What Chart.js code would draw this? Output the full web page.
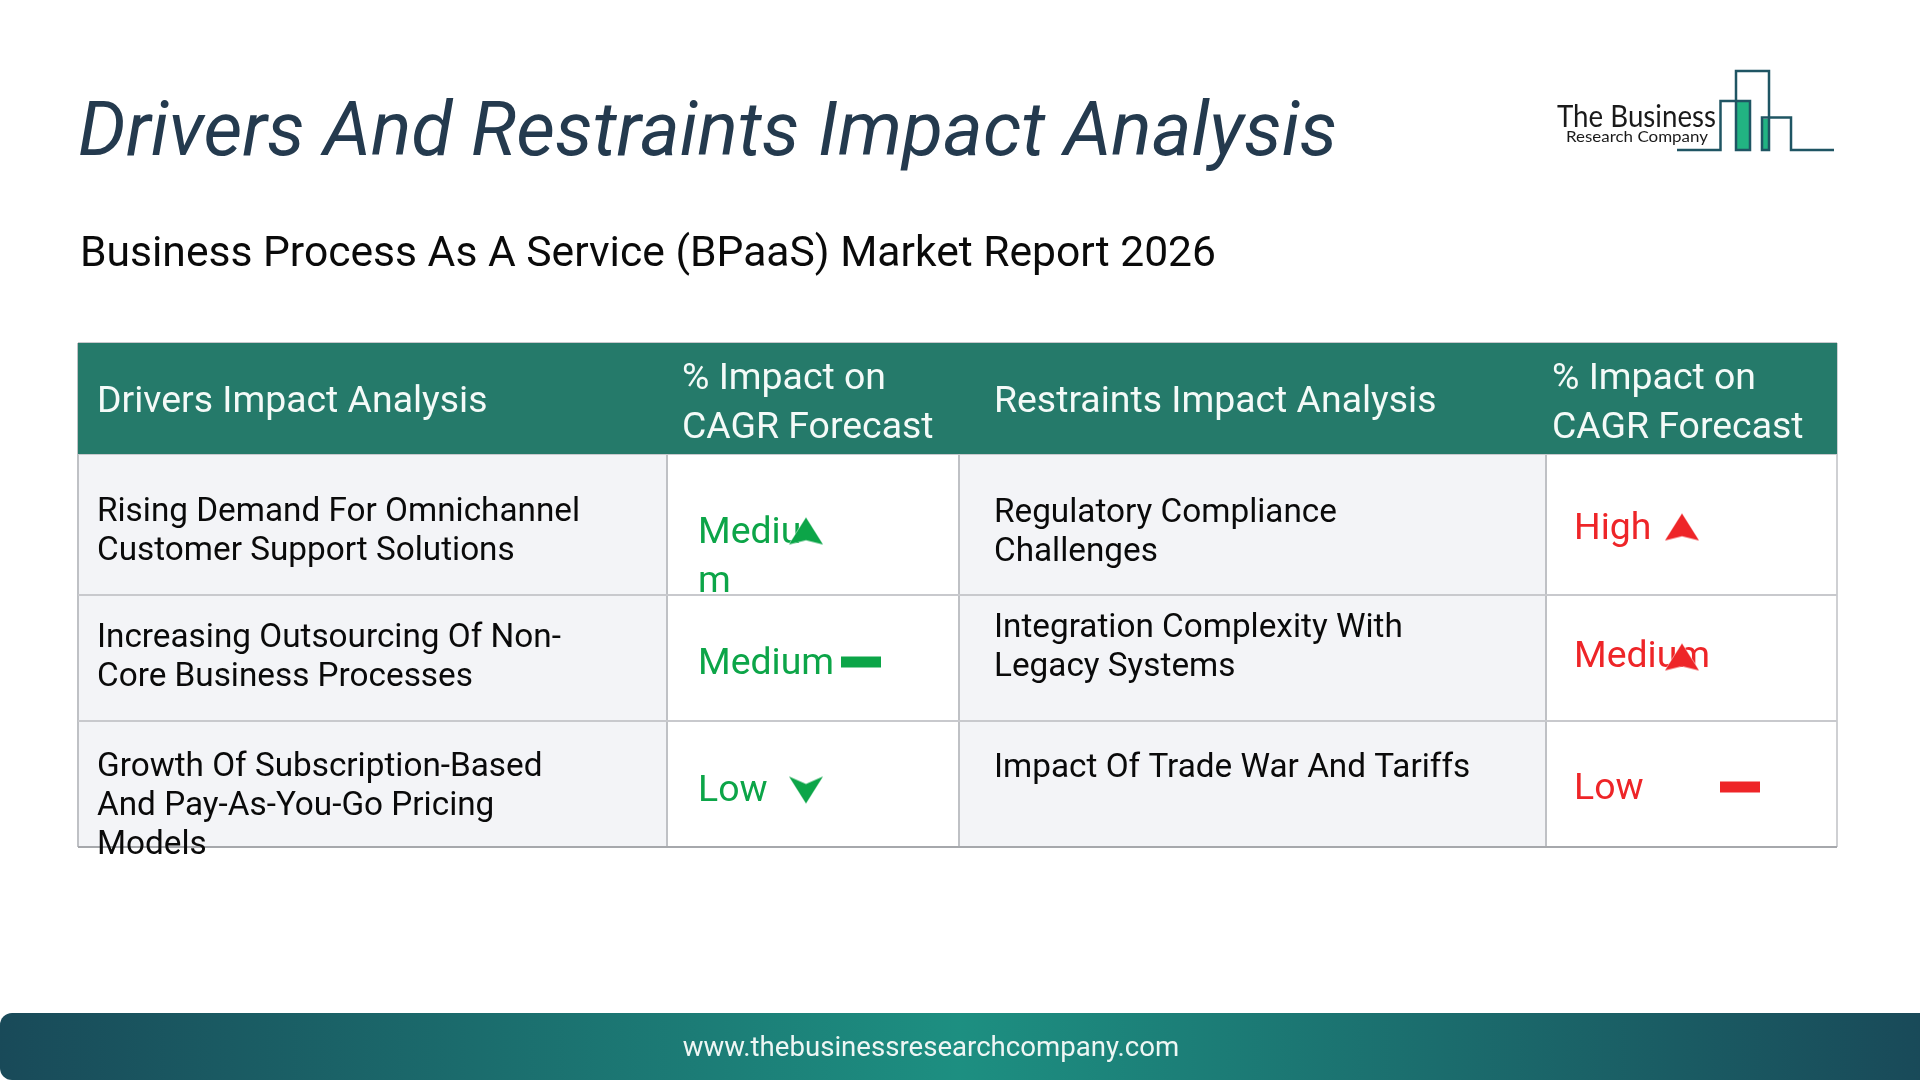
<!DOCTYPE html>
<html>
<head>
<meta charset="utf-8">
<title>Drivers And Restraints Impact Analysis</title>
<script src="https://cdn.jsdelivr.net/npm/chart.js@4"></script>
<style>
html, body { margin: 0; width: 1920px; height: 1080px; background: #fff; overflow: hidden; font-family: Roboto, sans-serif; }
#myChart { position: absolute; left: 0; top: 0; }
.abs { position: absolute; white-space: nowrap; line-height: 1; }
#title { left: 78px; top: 92px; font-size: 75.4px; font-style: italic; color: #243a4e; }
#subtitle { left: 80px; top: 230px; font-size: 42.6px; color: #0a0a0a; }
#footer { position: absolute; left: 0; top: 1013px; width: 1920px; height: 67px; border-radius: 12px 0 0 12px;
    background: linear-gradient(90deg, #194a59 0%, #1d8f81 50%, #194a59 100%); }
#url { left: 0; width: 1862px; top: 1033px; text-align: center; font-size: 27.6px; color: #eef6f4; }
#logo { position: absolute; left: 1540px; top: 60px; }
</style>
</head>
<body>
<canvas id="myChart" width="1920" height="1080"></canvas>
<div class="abs" id="title">Drivers And Restraints Impact Analysis</div>
<div class="abs" id="subtitle">Business Process As A Service (BPaaS) Market Report 2026</div>
<svg id="logo" width="310" height="100" viewBox="1540 60 310 100">
    <rect x="1737" y="102" width="13" height="48" fill="#22b382"/>
    <rect x="1763" y="119" width="6" height="31" fill="#22b382"/>
    <path d="M1677 150 H1720.5 V101 H1750 V150 H1736 V71 H1769 V150 H1762 V117.5 H1791 V150 H1834"
        fill="none" stroke="#1f5563" stroke-width="2.5"/>
    <text x="1557" y="127" font-family="Lato" font-size="30" textLength="159" lengthAdjust="spacingAndGlyphs" fill="#1a1a1a">The Business</text>
    <text x="1566" y="142" font-family="Lato" font-size="16" textLength="142" lengthAdjust="spacingAndGlyphs" fill="#1a1a1a">Research Company</text>
</svg>
<div id="footer"></div>
<div class="abs" id="url">www.thebusinessresearchcompany.com</div>
<script>
const tableHeaders = ['Drivers Impact Analysis', '% Impact on\nCAGR Forecast', 'Restraints Impact Analysis', '% Impact on\nCAGR Forecast'];
const driverFactors = [
    'Rising Demand For Omnichannel\nCustomer Support Solutions',
    'Increasing Outsourcing Of Non-\nCore Business Processes',
    'Growth Of Subscription-Based\nAnd Pay-As-You-Go Pricing\nModels'
];
const driverImpact = ['Mediu\nm', 'Medium', 'Low'];
const driverTrend = ['up', 'flat', 'down'];
const restraintFactors = [
    'Regulatory Compliance\nChallenges',
    'Integration Complexity With\nLegacy Systems',
    'Impact Of Trade War And Tariffs'
];
const restraintImpact = ['High', 'Medium', 'Low'];
const restraintTrend = ['up', 'up', 'flat'];

// table layout, same units as the page
const colEdges = [78, 667, 959, 1546, 1837];
const rowEdges = [343, 454, 595, 721, 847];
const textX = [97, 698, 994, 1574];
const headerX = [97, 682, 994, 1552];
const headerY = [[412], [389, 438], [412], [389, 438]];
const lineHeight = 39;
const cellY = [[521, 647, 776], [543, 674, 801], [522, 637, 777], [539, 667, 799]];
const markerDx = { up: 139, flat: 194, down: 139 };
const upNudge = [0, -3];
const markerY = [[531, 662, 790], [527, 657, 787]];
const GREEN = '#0ca548';
const RED = '#ee2528';

// arrows carry a thin white edge, it shows where they sit on the text
function makeMarker(kind, color) {
    const c = document.createElement('canvas');
    const w = kind === 'flat' ? 40 : 34;
    const h = kind === 'flat' ? 11 : 27;
    c.width = w + 2;
    c.height = h + 2;
    const g = c.getContext('2d');
    g.translate(1, 1);
    g.fillStyle = color;
    if (kind === 'flat') {
        g.fillRect(0, 0, w, h);
    } else {
        g.beginPath();
        if (kind === 'up') {
            g.moveTo(w / 2, 0); g.lineTo(w, h); g.lineTo(w / 2, h * 0.84); g.lineTo(0, h);
        } else {
            g.moveTo(0, 0); g.lineTo(w / 2, h * 0.28); g.lineTo(w, 0); g.lineTo(w / 2, h);
        }
        g.closePath();
        g.strokeStyle = '#fff';
        g.lineWidth = 1;
        g.stroke();
        g.fill();
    }
    return c;
}

function markerData(trend, col, side) {
    return trend.map((t, i) => ({
        x: colEdges[col] + markerDx[t] + (t === 'up' ? upNudge[side] : 0),
        y: markerY[side][i]
    }));
}

function drawLines(ctx, text, x, y, step) {
    text.split('\n').forEach((line, i) => ctx.fillText(line, x, y + i * step));
}

const tablePlugin = {
    id: 'table',
    beforeDraw(chart) {
        // grey body cells go under the grid
        const { ctx, scales: { x, y } } = chart;
        ctx.save();
        ctx.fillStyle = '#f3f4f7';
        [0, 2].forEach((c) => {
            ctx.fillRect(x.getPixelForValue(colEdges[c]), y.getPixelForValue(rowEdges[1]),
                x.getPixelForValue(colEdges[c + 1]) - x.getPixelForValue(colEdges[c]),
                y.getPixelForValue(rowEdges[4]) - y.getPixelForValue(rowEdges[1]));
        });
        ctx.restore();
    },
    beforeDatasetsDraw(chart) {
        const { ctx, scales: { x, y } } = chart;
        ctx.save();
        ctx.fillStyle = '#257a6a';
        ctx.fillRect(x.getPixelForValue(colEdges[0]), y.getPixelForValue(rowEdges[0]),
            x.getPixelForValue(colEdges[4]) - x.getPixelForValue(colEdges[0]),
            y.getPixelForValue(rowEdges[1]) - y.getPixelForValue(rowEdges[0]));

        ctx.textBaseline = 'alphabetic';
        ctx.font = '37.4px Roboto';
        ctx.fillStyle = '#f4faf8';
        tableHeaders.forEach((h, c) => {
            h.split('\n').forEach((line, i) => ctx.fillText(line, headerX[c], headerY[c][i]));
        });

        ctx.font = '33.3px Roboto';
        ctx.fillStyle = '#0a0a0a';
        driverFactors.forEach((t, r) => drawLines(ctx, t, textX[0], cellY[0][r], lineHeight));
        restraintFactors.forEach((t, r) => drawLines(ctx, t, textX[2], cellY[2][r], lineHeight));

        ctx.font = '37.4px Roboto';
        ctx.fillStyle = GREEN;
        driverImpact.forEach((t, r) => drawLines(ctx, t, textX[1], cellY[1][r], 49));
        ctx.fillStyle = RED;
        restraintImpact.forEach((t, r) => drawLines(ctx, t, textX[3], cellY[3][r], 49));
        ctx.restore();
    }
};

const chart = new Chart(document.getElementById('myChart').getContext('2d'), {
    type: 'scatter',
    data: {
        datasets: [{
            label: 'Drivers',
            data: markerData(driverTrend, 1, 0),
            pointStyle: driverTrend.map((t) => makeMarker(t, GREEN)),
            pointRadius: 17
        }, {
            label: 'Restraints',
            data: markerData(restraintTrend, 3, 1),
            pointStyle: restraintTrend.map((t) => makeMarker(t, RED)),
            pointRadius: 17
        }]
    },
    options: {
        responsive: false,
        animation: false,
        layout: { padding: { left: 78, right: 83, top: 343, bottom: 233 } },
        plugins: { legend: { display: false }, tooltip: { enabled: false } },
        scales: {
            x: {
                type: 'linear',
                min: colEdges[0],
                max: colEdges[4],
                afterBuildTicks: (s) => { s.ticks = colEdges.map((v) => ({ value: v })); },
                ticks: { display: false },
                border: { display: false },
                grid: { drawTicks: false, lineWidth: 2, color: (c) => (c.index === 4 ? '#cfd0d3' : '#bfc1c5') }
            },
            y: {
                type: 'linear',
                reverse: true,
                min: rowEdges[0],
                max: rowEdges[4],
                afterBuildTicks: (s) => { s.ticks = rowEdges.map((v) => ({ value: v })); },
                ticks: { display: false },
                border: { display: false },
                grid: { drawTicks: false, lineWidth: 2, color: (c) => (c.index === 4 ? '#a6a8ac' : '#c8c9cd') }
            }
        }
    },
    plugins: [tablePlugin]
});
</script>
</body>
</html>
